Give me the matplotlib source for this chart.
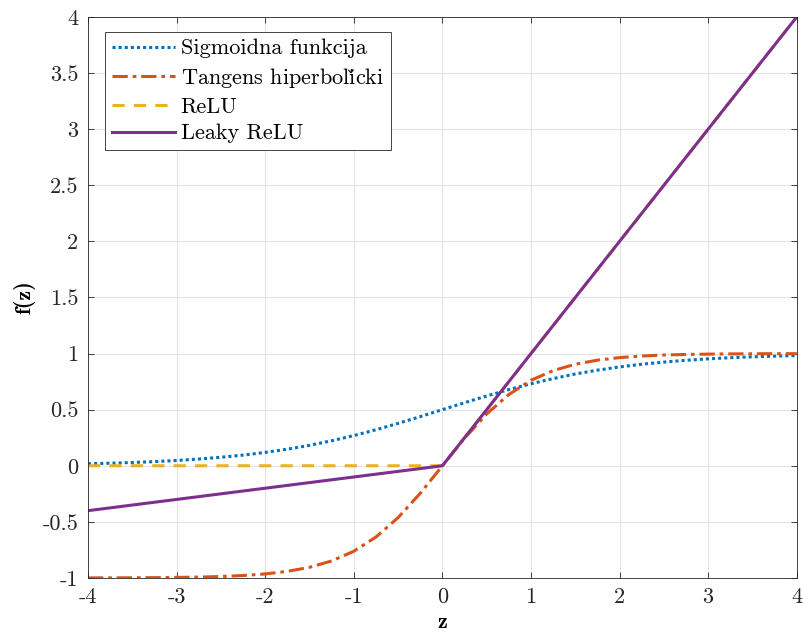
import matplotlib
matplotlib.use('Agg')
import matplotlib.pyplot as plt

# z vrijednosti (korak 0.25)
z = [-4.0, -3.75, -3.5, -3.25, -3.0, -2.75, -2.5, -2.25, -2.0, -1.75, -1.5,
     -1.25, -1.0, -0.75, -0.5, -0.25, 0.0, 0.25, 0.5, 0.75, 1.0, 1.25, 1.5,
     1.75, 2.0, 2.25, 2.5, 2.75, 3.0, 3.25, 3.5, 3.75, 4.0]

sigmoid = [0.018, 0.023, 0.029, 0.037, 0.047, 0.060, 0.076, 0.095, 0.119,
           0.148, 0.182, 0.223, 0.269, 0.321, 0.378, 0.438, 0.500, 0.562,
           0.622, 0.679, 0.731, 0.777, 0.818, 0.852, 0.881, 0.905, 0.924,
           0.940, 0.953, 0.963, 0.971, 0.977, 0.982]

tanh_vals = [-0.999, -0.999, -0.998, -0.997, -0.995, -0.992, -0.987, -0.978,
             -0.964, -0.941, -0.905, -0.848, -0.762, -0.635, -0.462, -0.245,
             0.0, 0.245, 0.462, 0.635, 0.762, 0.848, 0.905, 0.941, 0.964,
             0.978, 0.987, 0.992, 0.995, 0.997, 0.998, 0.999, 0.999]

relu_z = [-4, 0, 4]
relu = [0, 0, 4]

leaky_z = [-4, 0, 4]
leaky = [-0.4, 0, 4]

labels = ['Sigmoidna funkcija', r'Tangens hiperboli$\mathrm{\check{c}}$ki', 'ReLU', 'Leaky ReLU']
colors = ['#0072BD', '#D95319', '#EDB120', '#7E2F8E']

xticks = [-4, -3, -2, -1, 0, 1, 2, 3, 4]
yticks = [-1, -0.5, 0, 0.5, 1, 1.5, 2, 2.5, 3, 3.5, 4]
ytick_labels = ['-1', '-0.5', '0', '0.5', '1', '1.5', '2', '2.5', '3', '3.5', '4']

plt.rcParams['font.family'] = ['cmr10', 'DejaVu Serif']
plt.rcParams['mathtext.fontset'] = 'cm'
plt.rcParams['axes.unicode_minus'] = False
plt.rcParams['font.size'] = 16

fig = plt.figure(figsize=(8.04, 6.39), dpi=100)
ax = fig.add_axes([0.1095, 0.0955, 0.8815, 0.878])

ax.plot(z, sigmoid, linestyle=(0, (1, 1)), color=colors[0], lw=2.2, label=labels[0])
ax.plot(z, tanh_vals, linestyle=(0, (5, 1.6, 1.2, 1.6)), color=colors[1], lw=2.2, label=labels[1])
ax.plot(relu_z, relu, linestyle=(0, (4, 3)), color=colors[2], lw=2.2, label=labels[2])
ax.plot(leaky_z, leaky, linestyle='-', color=colors[3], lw=2.2, label=labels[3])

ax.set_xlim(-4, 4)
ax.set_ylim(-1, 4)
ax.set_xticks(xticks)
ax.set_xticklabels([str(t) for t in xticks])
ax.set_yticks(yticks)
ax.set_yticklabels(ytick_labels)
ax.grid(True, color='#e3e3e3', linewidth=0.8)
ax.set_axisbelow(True)
ax.tick_params(direction='in', length=4, width=0.6, top=True, right=True,
               colors='#262626', labelcolor='#262626', pad=7)
for s in ax.spines.values():
    s.set_color('#262626')
    s.set_linewidth(0.6)

ax.set_xlabel('z', fontfamily='cmb10', fontsize=16, labelpad=4)
ax.set_ylabel('f(z)', fontfamily='cmb10', fontsize=16, labelpad=5)

leg = ax.legend(loc='upper left', bbox_to_anchor=(0.024, 0.973), fancybox=False,
                edgecolor='#262626', framealpha=1, handlelength=2.85,
                borderaxespad=0, labelspacing=0.33, handletextpad=0.25,
                borderpad=0.3)
leg.get_frame().set_linewidth(0.6)

fig.savefig('out.png', dpi=100)
